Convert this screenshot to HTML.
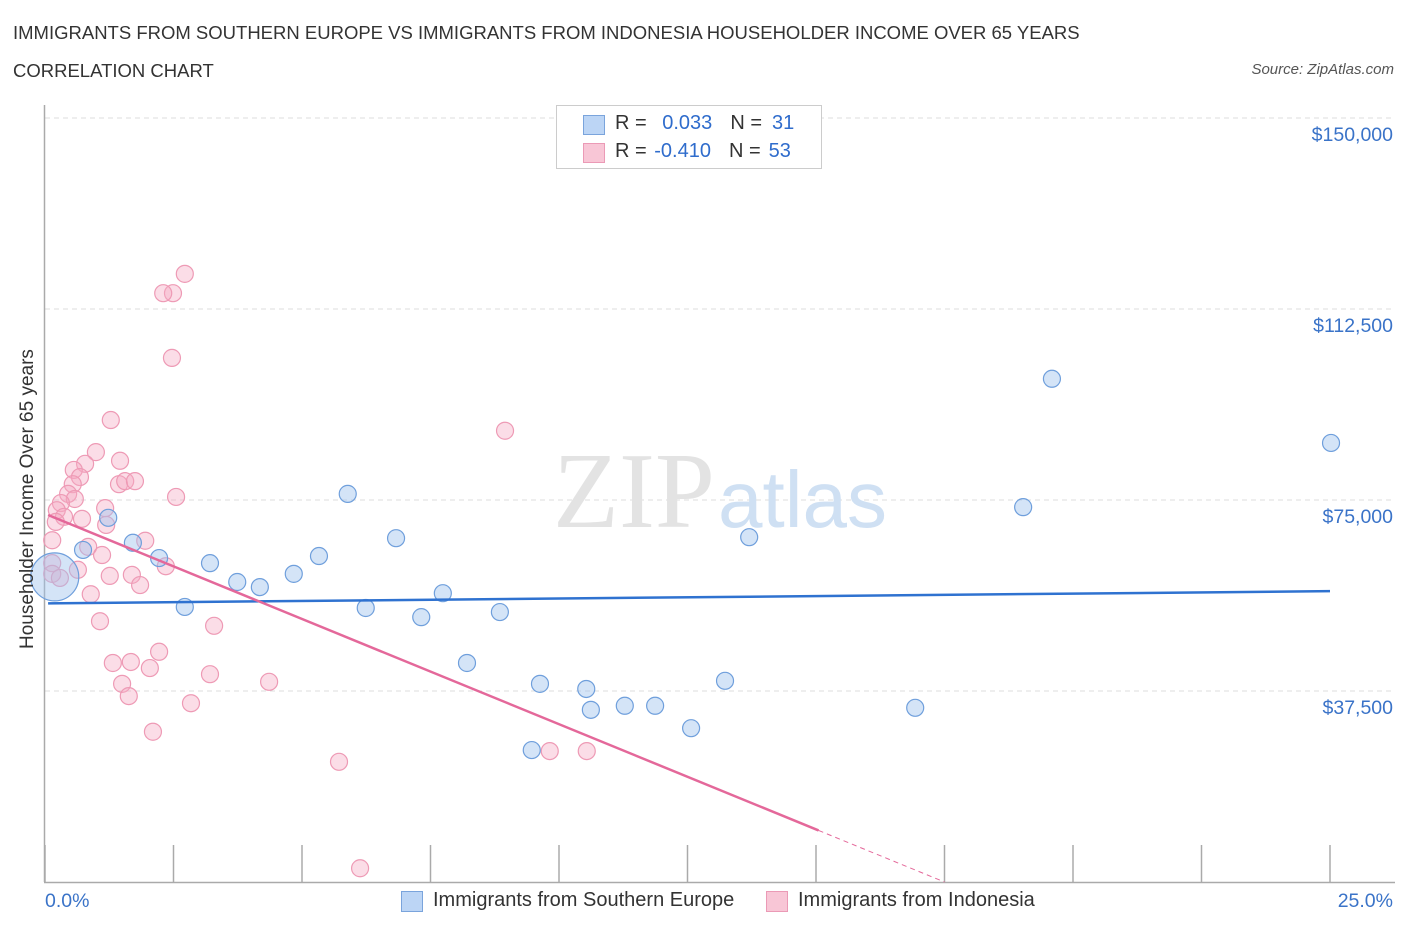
<!DOCTYPE html>
<html><head><meta charset="utf-8">
<style>
body{margin:0;background:#fff;font-family:"Liberation Sans",sans-serif;}
#wrap{position:relative;width:1406px;height:930px;overflow:hidden;}
.t{position:absolute;white-space:nowrap;}
</style></head>
<body>
<div id="wrap">
<div class="t" style="left:13px;top:22px;font-size:18.5px;color:#333;">IMMIGRANTS FROM SOUTHERN EUROPE VS IMMIGRANTS FROM INDONESIA HOUSEHOLDER INCOME OVER 65 YEARS</div>
<div class="t" style="left:13px;top:60px;font-size:18.5px;color:#333;">CORRELATION CHART</div>
<div class="t" style="right:12px;top:61px;font-size:15px;color:#555;font-style:italic;">Source: ZipAtlas.com</div>
<svg id="chart" width="1406" height="930" style="position:absolute;left:0;top:0"></svg>
</div>
<script>
const xTicksPct=[0,2.5,5,7.5,10,12.5,15,17.5,20,22.5,25];
const yTicks=[37.5,75,112.5,150];
const yTickLabels=["$37,500","$75,000","$112,500","$150,000"];
const blueX=[0.19,0.74,1.23,1.71,2.22,2.72,3.21,3.74,4.18,4.84,5.33,5.89,6.24,6.83,7.32,7.74,8.21,8.85,9.63,10.53,10.62,11.28,11.87,12.57,13.23,9.47,13.70,16.93,19.03,19.59,25.02];
const blueY=[59.9,65.2,71.5,66.6,63.6,54.0,62.6,58.9,57.9,60.5,64.0,76.2,53.8,67.5,52.0,56.7,43.0,53.0,38.9,37.9,33.8,34.6,34.6,30.2,39.5,25.9,67.7,34.2,73.6,98.8,86.2];
const pinkX=[1.28,0.99,1.46,0.78,0.56,0.68,0.54,0.45,1.44,1.56,1.75,0.58,0.31,0.23,0.37,0.21,1.17,0.72,1.19,0.14,0.84,1.95,1.11,0.14,0.64,0.14,1.26,1.69,1.85,0.89,1.07,2.35,3.29,1.32,1.67,2.04,2.22,1.50,1.63,3.21,4.36,2.84,2.10,2.49,2.30,2.72,2.47,2.55,8.95,5.72,9.82,10.54,6.13,0.29];
const pinkY=[90.7,84.4,82.7,82.1,80.9,79.5,78.1,76.2,78.1,78.7,78.7,75.2,74.4,73.0,71.7,70.7,73.4,71.3,70.1,67.1,65.8,67.0,64.2,62.6,61.3,60.5,60.1,60.3,58.3,56.5,51.2,62.0,50.3,43.0,43.2,42.0,45.2,38.9,36.5,40.8,39.3,35.1,29.5,115.6,115.6,119.4,102.9,75.6,88.6,23.6,25.7,25.7,2.7,59.7];
const blueTrend=[54.7,57.1]; // value at 0% and 25%
const pinkTrend=[72.3,0];    // value at 0% and at pinkZeroPct
const pinkZeroPct=17.5;
const pinkSolidEnd=15.05;

const NS="http://www.w3.org/2000/svg";
const svg=document.getElementById('chart');
const X=p=>45+p*(1285/25);
const Y=v=>882-v*(191/37.5);
function el(tag,attrs,parent){const e=document.createElementNS(NS,tag);for(const k in attrs)e.setAttribute(k,attrs[k]);(parent||svg).appendChild(e);return e;}

yTicks.forEach((v,i)=>{
  const g=el('line',{x1:45,x2:1395,y1:Y(v),y2:Y(v),stroke:'#ddd','stroke-dasharray':'5,4'});
  
  
  const t=el('text',{x:1393,y:Y(v)+23,'text-anchor':'end','font-size':19.5,fill:'#3a73c8','font-family':'Liberation Sans, sans-serif'});
  t.textContent=yTickLabels[i];
  
  
});
const ya=el('line',{x1:44.5,x2:44.5,y1:105,y2:882,stroke:'#aaa','stroke-width':1.5});


const xa=el('line',{x1:44,x2:1395,y1:882.5,y2:882.5,stroke:'#aaa','stroke-width':1.5});


xTicksPct.forEach(p=>{
  const tk=el('line',{x1:X(p),x2:X(p),y1:845,y2:882,stroke:'#aaa','stroke-width':1.5});
  
  
});
const wm=el('text',{x:553,y:527,'font-size':108,fill:'#e3e3e3','font-family':'Liberation Serif, serif'});
wm.textContent='ZIP';


const wm2=el('text',{x:718,y:527,'font-size':80,fill:'#cfe0f3','font-family':'Liberation Sans, sans-serif'});
wm2.textContent='atlas';



pinkX.forEach((p,i)=>{
  const c=el('circle',{cx:X(p),cy:Y(pinkY[i]),r:8.5,fill:'rgba(246,170,195,0.4)',stroke:'#ee9ab5','stroke-width':1.2});
  
  
});
blueX.forEach((p,i)=>{
  const c=el('circle',{cx:X(p),cy:Y(blueY[i]),r:i===0?24:8.5,fill:'rgba(160,196,238,0.45)',stroke:'#6f9fdc','stroke-width':1.2});
  
  
});
const bt=el('line',{x1:X(0.06),y1:Y(blueTrend[0]+(blueTrend[1]-blueTrend[0])*0.06/25),x2:X(25),y2:Y(blueTrend[1]),stroke:'#2f72d0','stroke-width':2.5});


const pv=p=>pinkTrend[0]+(pinkTrend[1]-pinkTrend[0])*p/pinkZeroPct;
const pt=el('line',{x1:X(0.06),y1:Y(pv(0.06)),x2:X(pinkSolidEnd),y2:Y(pv(pinkSolidEnd)),stroke:'#e4689a','stroke-width':2.5});


const pd=el('line',{x1:X(pinkSolidEnd),y1:Y(pv(pinkSolidEnd)),x2:X(pinkZeroPct),y2:Y(pv(pinkZeroPct)),stroke:'#e4689a','stroke-width':1,'stroke-dasharray':'5,4'});


</script>
<div class="t" style="left:45px;top:890px;font-size:19.5px;color:#3a73c8;">0.0%</div>
<div class="t" style="right:13px;top:890px;font-size:19.5px;color:#3a73c8;">25.0%</div>
<div class="t" style="font-size:19px;color:#333;transform:rotate(-90deg);transform-origin:0 0;top:649px;left:17px;">Householder Income Over 65 years</div>
<div style="position:absolute;left:556px;top:105px;width:264px;height:62px;border:1px solid #ccc;background:#fff;">
 <div style="position:absolute;left:26px;top:9px;width:20px;height:18px;background:#bcd5f5;border:1px solid #7aa4dc;"></div>
 <div class="t" style="left:58px;top:6px;font-size:20px;color:#333;">R = <span style="color:#2f6ccc;margin-left:10px">0.033</span><span style="margin-left:18px">N =</span><span style="color:#2f6ccc;margin-left:10px">31</span></div>
 <div style="position:absolute;left:26px;top:37px;width:20px;height:18px;background:#f8c6d6;border:1px solid #eb9ab6;"></div>
 <div class="t" style="left:58px;top:34px;font-size:20px;color:#333;">R = <span style="color:#2f6ccc;margin-left:2px">-0.410</span><span style="margin-left:18px">N =</span><span style="color:#2f6ccc;margin-left:8px">53</span></div>
</div>
<div style="position:absolute;left:401px;top:891px;width:20px;height:19px;background:#bcd5f5;border:1px solid #7aa4dc;"></div>
<div class="t" style="left:433px;top:889px;font-size:20px;color:#333;">Immigrants from Southern Europe</div>
<div style="position:absolute;left:766px;top:891px;width:20px;height:19px;background:#f8c6d6;border:1px solid #eb9ab6;"></div>
<div class="t" style="left:798px;top:889px;font-size:20px;color:#333;">Immigrants from Indonesia</div>
</body></html>
